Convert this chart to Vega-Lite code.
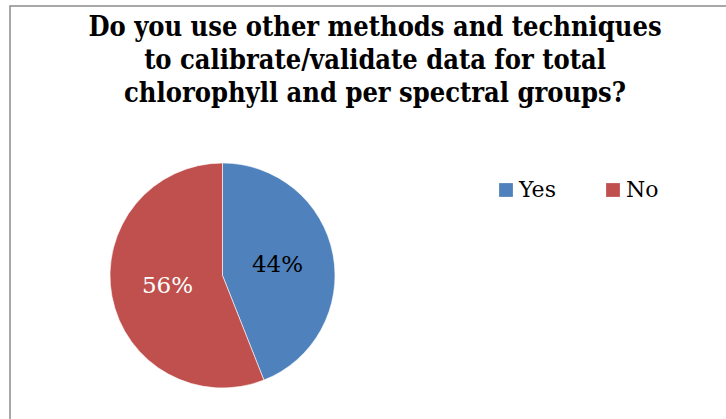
{
  "$schema": "https://vega.github.io/schema/vega-lite/v6.json",
  "width": 730,
  "height": 430,
  "autosize": {"type": "none"},
  "padding": {"left": 10, "top": 6, "right": 0, "bottom": 0},
  "background": "white",
  "view": {"stroke": "#8c8c8c", "strokeWidth": 1.5, "fill": "white"},
  "title": {
    "text": ["Do you use other methods and techniques", "to calibrate/validate data for total", "chlorophyll and per spectral groups?"],
    "font": "DejaVu Serif Condensed",
    "fontSize": 27,
    "fontWeight": "bold",
    "color": "#000000",
    "lineHeight": 33,
    "anchor": "middle",
    "baseline": "alphabetic",
    "offset": -123
  },
  "data": {
    "values": [
      {"answer": "Yes", "share": 44, "label": "44%"},
      {"answer": "No", "share": 56, "label": "56%"}
    ]
  },
  "encoding": {
    "theta": {"field": "share", "type": "quantitative", "stack": true},
    "order": {"field": "share", "type": "quantitative", "sort": "ascending"}
  },
  "layer": [
    {
      "mark": {"type": "arc", "x": 212.5, "y": 269.5, "outerRadius": 112.5, "stroke": "#ffffff", "strokeWidth": 0.6},
      "encoding": {
        "color": {
          "field": "answer",
          "type": "nominal",
          "scale": {"domain": ["Yes", "No"], "range": ["#4F81BD", "#C0504D"]},
          "legend": {
            "title": null,
            "orient": "none",
            "direction": "horizontal",
            "legendX": 485,
            "legendY": 173,
            "symbolType": "square",
            "symbolSize": 190,
            "symbolStrokeWidth": 0,
            "symbolOpacity": 1,
            "labelFont": "DejaVu Serif",
            "labelFontSize": 22,
            "labelColor": "#000000",
            "labelOffset": 2,
            "columnPadding": 46
          }
        }
      }
    },
    {
      "mark": {"type": "text", "x": 212.5, "y": 269.5, "radius": 56, "font": "DejaVu Serif", "fontSize": 23, "baseline": "middle", "align": "center"},
      "encoding": {
        "text": {"field": "label", "type": "nominal"},
        "color": {
          "field": "answer",
          "type": "nominal",
          "scale": {"domain": ["Yes", "No"], "range": ["#000000", "#ffffff"]},
          "legend": null
        }
      }
    }
  ],
  "resolve": {"scale": {"color": "independent"}}
}
